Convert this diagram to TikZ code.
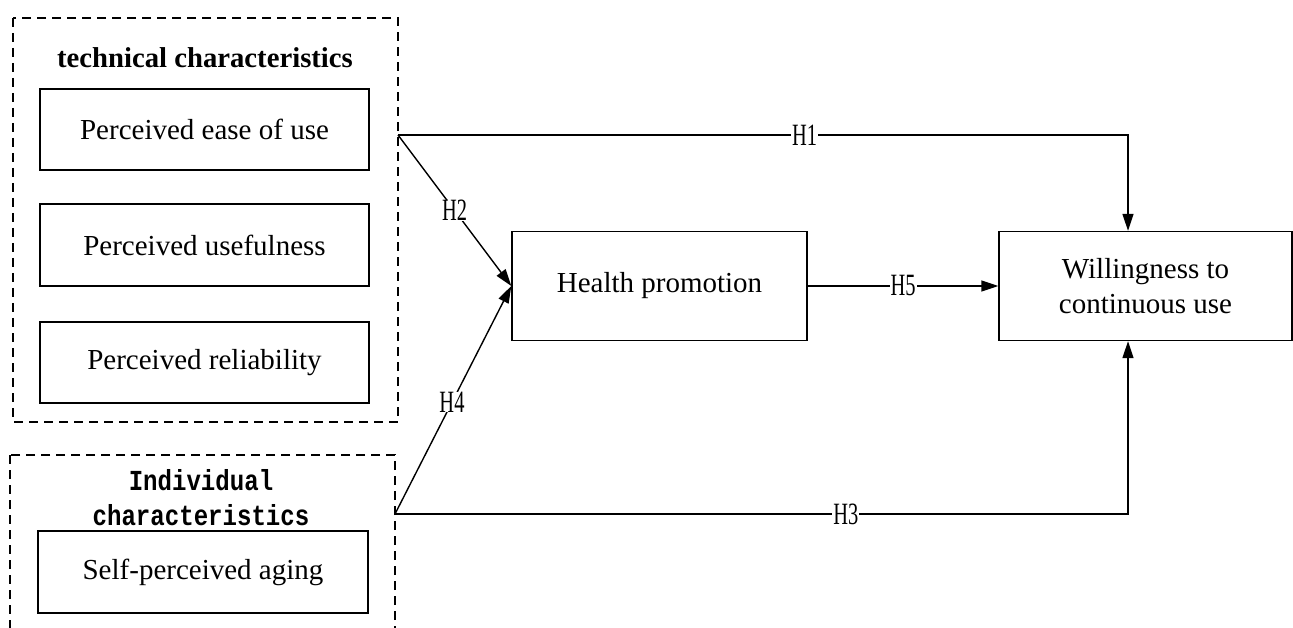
\documentclass[tikz,border=0pt]{standalone}
\usepackage{fontspec}
\setmainfont{Liberation Serif}
\newfontfamily\labfont[FakeStretch=0.66]{Liberation Serif}
\newfontfamily\indfont[FakeStretch=0.83]{Liberation Mono}
\usetikzlibrary{arrows.meta}
\begin{document}
\begin{tikzpicture}[x=1pt,y=-1pt,
  box/.style={draw=black,line width=1.4pt,rectangle,inner sep=0pt,align=center,
    font=\fontsize{29}{35}\selectfont},
  grp/.style={draw=black,line width=1.3pt,dash pattern=on 9pt off 6pt},
  conn/.style={draw=black,line width=1.4pt},
  arr/.style={conn,-{Triangle[length=17pt,width=11pt]}},
  lab/.style={fill=white,inner xsep=1pt,inner ysep=0pt,font=\labfont\fontsize{31}{32}\selectfont}]
\useasboundingbox (0,0) rectangle (1293,628);
\clip (0,0) rectangle (1293,628);
% group frames
\draw[grp] (13,18) rectangle (398,422);
\draw[grp] (10,455) rectangle (395,660);
\node[font=\bfseries\fontsize{28.7}{35}\selectfont] (ttl) at (205,58) {technical characteristics};
\node[font=\indfont\bfseries\fontsize{29}{35}\selectfont,align=center,inner sep=0pt] (ittl) at (201,498) {Individual\\characteristics};
% boxes
\node[box,minimum width=329pt,minimum height=81pt] (pe) at (204.5,129.5) {Perceived ease of use};
\node[box,minimum width=329pt,minimum height=82pt] (pu) at (204.5,245) {Perceived usefulness};
\node[box,minimum width=329pt,minimum height=81pt] (pr) at (204.5,362.5) {Perceived reliability};
\node[box,minimum width=330pt,minimum height=82pt] (sa) at (203,572) {Self-perceived aging};
\node[box,minimum width=295pt,minimum height=109pt] (hp) at (659.5,286) {Health promotion};
\node[box,minimum width=293pt,minimum height=109pt] (will) at (1145.5,286) {Willingness to\\continuous use};
% connector anchor points
\coordinate (t1) at (398,135);
\coordinate (i1) at (395,514);
\coordinate (w1) at (1128,135);
\coordinate (w3) at (1128,514);
% connectors
\draw[arr] (t1) -- node[lab,pos=0.557]{H1} (w1) -- (w1 |- will.north);
\draw[arr] (t1) -- node[lab,pos=0.5]{H2} (hp.west);
\draw[arr] (i1) -- node[lab,pos=0.49]{H4} (hp.west);
\draw[arr] (i1) -- node[lab,pos=0.615]{H3} (w3) -- (w3 |- will.south);
\draw[arr] (hp.east) -- node[lab,pos=0.5]{H5} (will.west);
\end{tikzpicture}
\end{document}
